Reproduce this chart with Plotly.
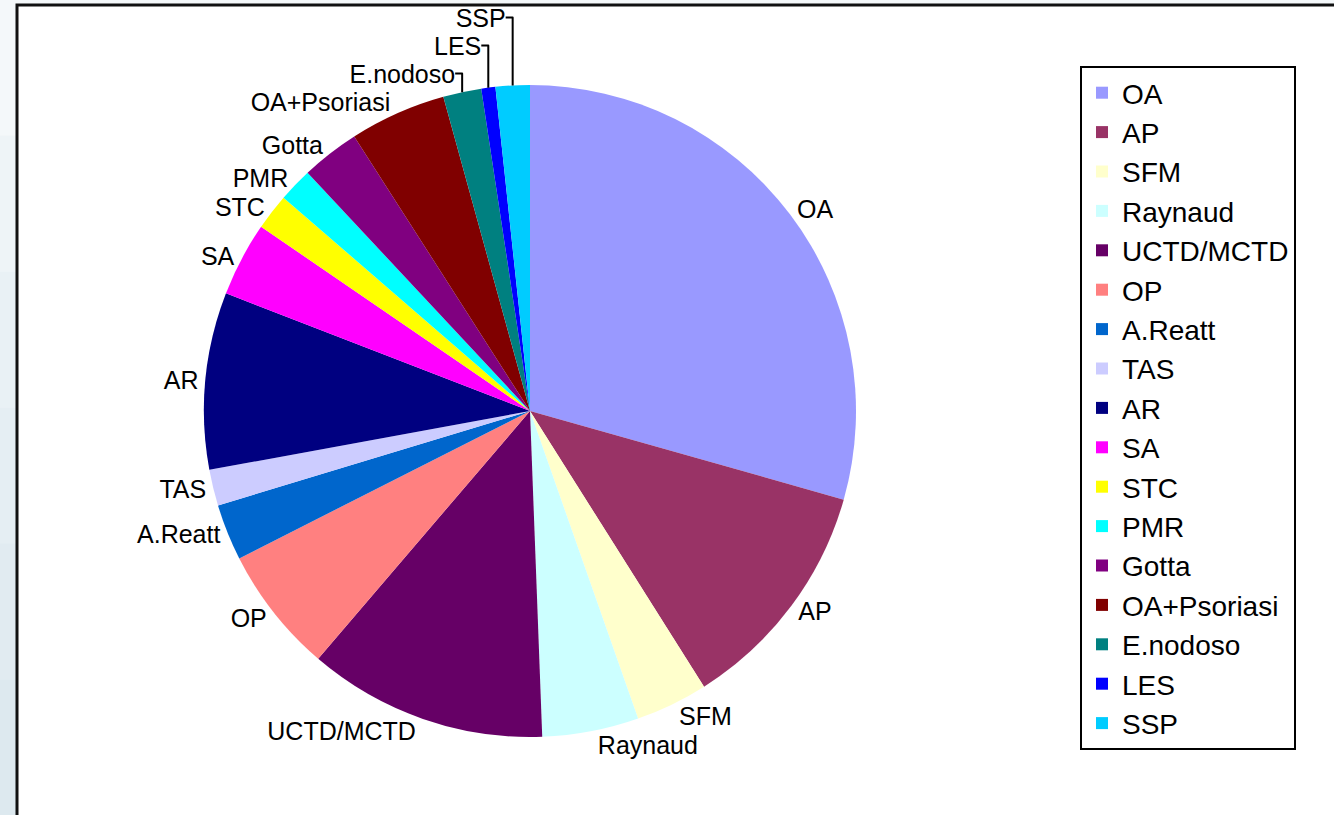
import plotly.graph_objects as go

labels = ["OA", "AP", "SFM", "Raynaud", "UCTD/MCTD", "OP", "A.Reatt", "TAS", "AR",
          "SA", "STC", "PMR", "Gotta", "OA+Psoriasi", "E.nodoso", "LES", "SSP"]
values = [29.5, 11.7, 3.6, 4.8, 11.9, 6.3, 2.8, 1.8, 8.8,
          3.7, 1.8, 1.7, 2.9, 4.8, 1.9, 0.7, 1.7]
colors = ["#9999FF", "#993366", "#FFFFCC", "#CCFFFF", "#660066", "#FF8080", "#0066CC",
          "#CCCCFF", "#000080", "#FF00FF", "#FFFF00", "#00FFFF", "#800080", "#800000",
          "#008080", "#0000FF", "#00CCFF"]

W, H = 1334, 815
cx, cy, r = 530, 411, 326

fig = go.Figure(go.Pie(
    labels=labels, values=values, sort=False, direction="clockwise", rotation=0,
    marker=dict(colors=colors, line=dict(width=0)),
    textinfo="label", textposition="outside",
    textfont=dict(family="Liberation Sans, Arial", size=25, color="black"),
    hoverinfo="label+value", automargin=False,
    domain=dict(x=[(cx - r) / W, (cx + r) / W], y=[(H - cy - r) / H, (H - cy + r) / H]),
))

shapes = []
# left gradient strip
bands = ["#f4f8fa", "#eef4f7", "#e9f1f5", "#e5eef3", "#e1ebf1", "#dde9ef"]
n = len(bands)
for i, c in enumerate(bands):
    shapes.append(dict(type="rect", xref="paper", yref="paper", layer="below",
                       x0=0, x1=1, y0=1 - (i + 1) / n, y1=1 - i / n,
                       fillcolor=c, line=dict(width=0)))
# white chart area with black frame
shapes.append(dict(type="rect", xref="paper", yref="paper", layer="below",
                   x0=17 / W, x1=1.05, y0=-0.05, y1=1 - 5 / H,
                   fillcolor="white", line=dict(color="#111111", width=3)))

fig.update_layout(
    width=W, height=H, margin=dict(l=0, r=0, t=0, b=0, autoexpand=False),
    paper_bgcolor="#eef4f7", plot_bgcolor="white",
    shapes=shapes,
    showlegend=True,
    legend=dict(x=1080 / W, y=1 - 66 / H, xanchor="left", yanchor="top",
                bordercolor="black", borderwidth=2, bgcolor="white",
                font=dict(family="Liberation Sans, Arial", size=28, color="black"),
                tracegroupgap=0),
)

post = ("document.documentElement.style.margin='0';"
        "document.body.style.margin='0';document.body.style.overflow='hidden';"
        "var gd=document.getElementById('{plot_id}');"
        "gd.style.position='fixed';gd.style.top='0px';gd.style.left='0px';")

fig.write_html("out.html", config={"displayModeBar": False}, post_script=post)
